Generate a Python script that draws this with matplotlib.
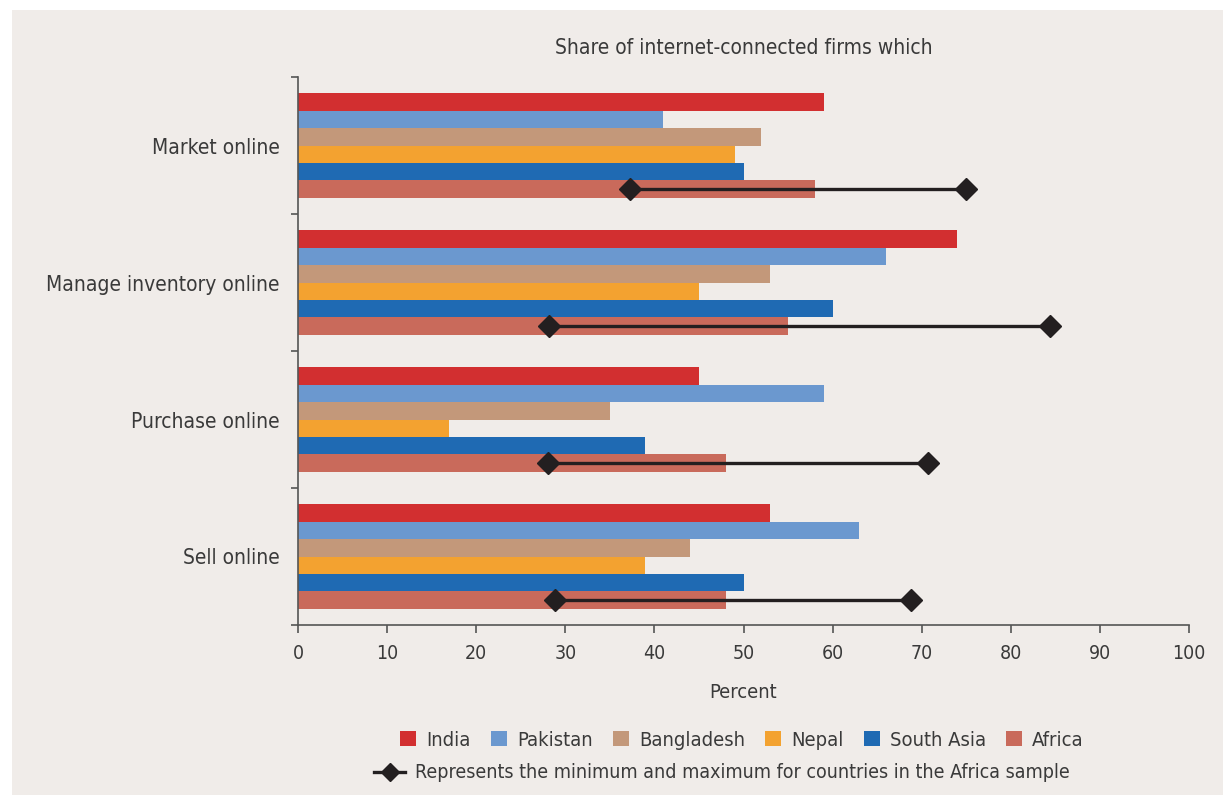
import matplotlib
matplotlib.use("Agg")
import matplotlib.pyplot as plt
import numpy as np
from matplotlib.patches import Patch, Rectangle
from matplotlib.lines import Line2D

plt.rcParams['font.family'] = ['DejaVu Sans']
plt.rcParams['font.stretch'] = 'condensed'

# Activities (top to bottom)
categories = ["Market online", "Manage inventory online", "Purchase online", "Sell online"]
series_names = ["India", "Pakistan", "Bangladesh", "Nepal", "South Asia", "Africa"]

india = [59, 74, 45, 53]
pakistan = [41, 66, 59, 63]
bangladesh = [52, 53, 35, 44]
nepal = [49, 45, 17, 39]
south_asia = [50, 60, 39, 50]
africa = [58, 55, 48, 48]

# Range across countries in the Africa sample
africa_min = [37.3, 28.2, 28.1, 28.8]
africa_max = [75.0, 84.4, 70.7, 68.8]

colors = ["#d22f30", "#6b98cf", "#c3987a", "#f3a230", "#1f6ab3", "#c96a5b"]
text_color = "#3a3a3a"
bg = "#f0ece9"

fig = plt.figure(figsize=(12.23, 7.95), dpi=100, facecolor="white")
fig.patches.append(Rectangle((12 / 1223, 0), 1, 1 - 10 / 795, transform=fig.transFigure,
                             facecolor=bg, edgecolor="none", zorder=-10))

W, H = 1223, 795
left, right, top, bottom = 298, 1189, 77, 625
ax = fig.add_axes([left / W, 1 - bottom / H, (right - left) / W, (bottom - top) / H])
ax.set_facecolor(bg)

all_series = [india, pakistan, bangladesh, nepal, south_asia, africa]
n = len(categories)
group_pos = np.arange(n)[::-1].astype(float)  # Market online at top
bar_h = 0.1277
offsets = (np.arange(6) - 2.5) * bar_h

for i, (vals, c) in enumerate(zip(all_series, colors)):
    # India is the top bar in each group
    ax.barh(group_pos - offsets[i], vals, height=bar_h, color=c, edgecolor="none", zorder=2)

africa_y = group_pos - offsets[5]
for y, lo, hi in zip(africa_y, africa_min, africa_max):
    ax.plot([lo, hi], [y, y], color="#231f20", lw=2.4, marker="D", markersize=11,
            zorder=4, solid_capstyle="butt")

ax.set_xlim(0, 100)
ax.set_ylim(-0.5, n - 0.5)

for s in ["top", "right"]:
    ax.spines[s].set_visible(False)
for s in ["left", "bottom"]:
    ax.spines[s].set_color("#555555")
    ax.spines[s].set_linewidth(1.2)

ax.set_xticks(np.arange(0, 101, 10))
ax.tick_params(axis="x", direction="out", length=6, width=1.2, color="#555555",
               labelsize=14, labelcolor=text_color, pad=8)

ax.set_yticks(group_pos)
ax.set_yticklabels(categories)
ax.set_yticks(np.arange(-0.5, n, 1.0), minor=True)
ax.tick_params(axis="y", which="major", length=0, labelsize=15, labelcolor=text_color, pad=13)
ax.tick_params(axis="y", which="minor", direction="out", length=5, width=1.2, color="#555555")

ax.set_xlabel("Percent", fontsize=14.5, color=text_color, labelpad=14)
fig.text((left + right) / 2 / W, 1 - 48 / H, "Share of internet-connected firms which",
         ha="center", va="center", fontsize=15, color=text_color)

# Legend: series swatches
handles = [Patch(facecolor=c, edgecolor="none") for c in colors]
leg1 = fig.legend(handles, series_names, loc="center", bbox_to_anchor=(742 / W, 1 - 740 / H),
                  ncol=6, frameon=False, fontsize=14.5, handlelength=0.8, handleheight=0.8,
                  handletextpad=0.5, columnspacing=1.0, labelcolor=text_color)

# Legend: range marker
range_handle = Line2D([0, 1], [0, 0], color="#231f20", lw=2.4, marker="D", markersize=9)
leg2 = fig.legend([range_handle], ["Represents the minimum and maximum for countries in the Africa sample"],
                  loc="center", bbox_to_anchor=(722 / W, 1 - 773 / H), frameon=False,
                  fontsize=14, handlelength=1.6, handletextpad=0.5, labelcolor=text_color)

fig.savefig("out.png", dpi=100, facecolor=fig.get_facecolor())
